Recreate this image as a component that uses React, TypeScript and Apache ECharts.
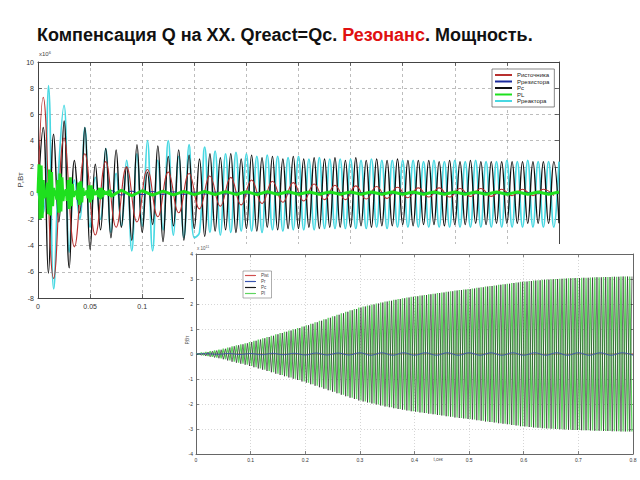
import React, { useEffect, useRef } from "react";
import * as echarts from "echarts";

// ---------- Texts ----------
const TITLE_MAIN = "Компенсация Q на XX. Qreact=Qc. ";
const TITLE_RED = "Резонанс";
const TITLE_END = ". Мощность.";
const mainSeriesNames = ["Pисточника", "Pрезистора", "Pc", "PL", "Pреактора"];
const insetSeriesNames = ["Pist", "Pr", "Pc", "Pl"];
const yName = "P,Вт";
const xNameInset = "t,сек";

// ---------- Main plot (x10^6 W), t = 0 .. 0.5 s ----------
const mainStep = 0.005; // half-period of the 100 Hz oscillation
const mainVisibleXMax = 0.1; // x tick labels not hidden under the inset
// Pc: extremes read every half period
const pcMain = [
  0, 5.0, -6.1, 4.5, -2.2, 5.5, -5.7, 2.5, -1.5, 5.0,
  -4.3, 2.2, -2.8, 3.4, -3.4, 3.3, -2.6, 2.0, -3.6, 3.7,
  -3.0, 1.6, -2.4, 3.6, -3.7, 2.8, -2.5, 3.3, -3.6, 2.9,
  -2.7, 2.6, -3.3, 3.0, -2.9, 2.7, -2.8, 3.0, -3.0, 2.6,
  -2.7, 2.9, -2.9, 2.7, -2.6, 2.8, -2.8, 2.6, -2.7, 2.8,
  -2.7, 2.6, -2.6, 2.7, -2.7, 2.6, -2.6, 2.7, -2.6, 2.5,
  -2.6, 2.7, -2.5, 2.5, -2.6, 2.6, -2.5, 2.5, -2.5, 2.6,
  -2.4, 2.5, -2.5, 2.5, -2.4, 2.5, -2.4, 2.4, -2.5, 2.5,
  -2.4, 2.4, -2.4, 2.5, -2.3, 2.4, -2.4, 2.4, -2.3, 2.4,
  -2.3, 2.4, -2.3, 2.4, -2.3, 2.4, -2.3, 2.4, -2.3, 2.4,
  -2.3,
];
// Preaktora: extremes on the same grid
const preactMain = [
  0, -1.5, 8.2, -7.3, 2.0, 6.7, -4.5, 1.0, -2.0, 5.0,
  -2.6, 1.2, -2.0, 3.4, -3.0, 1.5, -2.5, 2.5, -4.4, 3.0,
  -2.5, 4.0, -4.4, 2.5, -2.8, 4.0, -3.2, 2.8, -3.4, 3.7,
  -3.4, -3.0, 3.5, -3.0, 3.2, -3.2, 3.0, -3.0, 3.1, -2.9,
  3.0, -2.9, 2.8, -3.0, 2.9, -2.8, 2.8, -2.9, 2.7, -2.8,
  2.8, -2.8, 2.6, -2.8, 2.7, -2.7, 2.6, -2.7, 2.6, -2.7,
  2.6, -2.7, 2.5, -2.7, 2.6, -2.6, 2.5, -2.7, 2.5, -2.6,
  2.5, -2.6, 2.5, -2.6, 2.4, -2.6, 2.5, -2.6, 2.4, -2.6,
  2.5, -2.6, 2.4, -2.6, 2.5, -2.6, 2.4, -2.6, 2.4, -2.6,
  2.5, -2.6, 2.4, -2.6, 2.5, -2.6, 2.4, -2.6, 2.4, -2.6,
  2.4,
];
// Pistochnika: 50 Hz, extremes every 0.01 s starting at 0.005 s
const pistStep = 0.01;
const pistStart = 0.005;
const pistMain = [
  7.3, -6.5, 4.2, -4.1, 3.0, -3.2, 2.4, -2.6, 2.0, -2.2,
  1.8, -1.8, 1.6, -1.5, 1.5, -1.2, 1.3, -1.0, 1.2, -0.9,
  1.0, -0.8, 0.9, -0.7, 0.8, -0.6, 0.7, -0.5, 0.6, -0.5,
  0.55, -0.45, 0.5, -0.4, 0.45, -0.35, 0.4, -0.3, 0.4, -0.3,
  0.35, -0.25, 0.35, -0.25, 0.3, -0.2, 0.3, -0.2, 0.3, -0.2,
];
// Prezistora: every 0.01 s
const prStep = 0.01;
const prMain = [
  0, 0.4, -0.35, 0.3, -0.3, 0.25, -0.2, 0.2, -0.15, 0.15,
  -0.12, 0.12, -0.1, 0.1, -0.1, 0.08, -0.08, 0.08, -0.07, 0.07,
  -0.07, 0.06, -0.06, 0.06, -0.06, 0.05, -0.05, 0.05, -0.05, 0.05,
  -0.05, 0.05, -0.05, 0.05, -0.05, 0.05, -0.05, 0.05, -0.05, 0.05,
  -0.05, 0.05, -0.05, 0.05, -0.05, 0.05, -0.05, 0.05, -0.05, 0.05,
  -0.05,
];
// PL: fast transient every 1 ms up to 0.07 s, then every 0.01 s from 0.08 s
const plEarlyStep = 0.001;
const plEarly = [
  0, 2.2, -2.0, 2.1, -1.9, 1.0, -0.4, 0.2, -0.3, 0.8,
  -1.6, 1.8, -1.7, 1.6, -1.0, 0.4, -0.2, 0.2, -0.5, 1.0,
  -1.5, 1.5, -1.4, 1.2, -0.6, 0.2, -0.2, 0.3, -0.6, 1.0,
  -1.2, 1.2, -1.0, 0.7, -0.3, 0.15, -0.15, 0.2, -0.5, 0.8,
  -0.9, 0.9, -0.7, 0.4, -0.2, 0.1, -0.1, 0.2, -0.4, 0.6,
  -0.7, 0.6, -0.5, 0.3, -0.15, 0.1, -0.1, 0.2, -0.3, 0.4,
  -0.45, 0.4, -0.3, 0.2, -0.1, 0.1, -0.1, 0.15, -0.2, 0.25,
  -0.25,
];
const plLateStart = 0.08;
const plLateStep = 0.01;
const plLate = [
  0.22, -0.2, 0.18, -0.16, 0.15, -0.14, 0.13, -0.12, 0.12, -0.11,
  0.11, -0.1, 0.1, -0.1, 0.1, -0.09, 0.1, -0.09, 0.09, -0.09,
  0.09, -0.08, 0.09, -0.08, 0.08, -0.08, 0.08, -0.08, 0.08, -0.08,
  0.08, -0.08, 0.08, -0.08, 0.08, -0.08, 0.08, -0.08, 0.08, -0.08,
  0.08, -0.08, 0.08,
];

// ---------- Inset plot (x10^11 W), t = 0 .. 0.8 s ----------
const insetPeriod = 0.008;
// amplitude of each oscillation cycle of PL / Pc
const insetEnvelope = [
  0.02, 0.05, 0.08, 0.11, 0.14, 0.17, 0.21, 0.26, 0.31, 0.35,
  0.39, 0.43, 0.48, 0.53, 0.58, 0.63, 0.68, 0.73, 0.79, 0.84,
  0.89, 0.94, 0.99, 1.04, 1.10, 1.15, 1.21, 1.27, 1.33, 1.39,
  1.45, 1.51, 1.57, 1.63, 1.69, 1.75, 1.80, 1.86, 1.90, 1.94,
  1.98, 2.02, 2.06, 2.10, 2.13, 2.17, 2.20, 2.23, 2.26, 2.29,
  2.31, 2.34, 2.36, 2.39, 2.41, 2.44, 2.46, 2.49, 2.51, 2.54,
  2.56, 2.58, 2.60, 2.62, 2.65, 2.67, 2.70, 2.72, 2.74, 2.77,
  2.79, 2.81, 2.84, 2.86, 2.89, 2.90, 2.92, 2.94, 2.95, 2.97,
  2.98, 2.99, 3.00, 3.01, 3.02, 3.03, 3.04, 3.04, 3.05, 3.05,
  3.06, 3.07, 3.07, 3.08, 3.08, 3.09, 3.09, 3.10, 3.10, 3.10,
];
const insetPrStep = 0.02;
const insetPr = [
  0, 0.01, -0.01, 0.02, -0.02, 0.02, -0.03, 0.03, -0.03, 0.03,
  -0.04, 0.04, -0.04, 0.04, -0.04, 0.05, -0.05, 0.05, -0.05, 0.05,
  -0.05, 0.05, -0.05, 0.05, -0.05, 0.05, -0.05, 0.05, -0.05, 0.05,
  -0.05, 0.05, -0.05, 0.05, -0.05, 0.05, -0.05, 0.05, -0.05, 0.05,
  -0.05,
];
const insetPistStep = 0.1;
const insetPist = [0, 0.01, -0.01, 0.01, 0, 0.01, -0.01, 0, 0.01];

const FONT = "Liberation Sans, Arial, sans-serif";

const r4 = (v: number) => Math.round(v * 10000) / 10000;

function stepData(vals: number[], step: number, start = 0) {
  return vals.map((v, i) => [r4(start + i * step), v]);
}

function insetWave(sign: number) {
  const out: number[][] = [[0, 0]];
  insetEnvelope.forEach((a, k) => {
    out.push([r4(k * insetPeriod + insetPeriod / 4), sign * a]);
    out.push([r4(k * insetPeriod + (3 * insetPeriod) / 4), -sign * a]);
  });
  return out;
}

function boxAxes(min: number, max: number, interval: number, labelSize: number, tickLen: number, gridColor: string, gridType: any, labelMargin: number, lineColor: string, formatter?: (v: number) => string) {
  const common = {
    type: "value",
    min,
    max,
    interval,
    axisLine: { show: true, onZero: false, lineStyle: { color: lineColor, width: 1 } },
    axisTick: { show: true, inside: true, length: tickLen, lineStyle: { color: lineColor, width: 0.8 } },
  };
  const label: any = { fontSize: labelSize, color: "#333", fontFamily: FONT, margin: labelMargin };
  if (formatter) label.formatter = formatter;
  return [
    {
      ...common,
      axisLabel: label,
      splitLine: { show: true, lineStyle: { type: gridType, color: gridColor, width: 0.7 } },
    },
    {
      ...common,
      axisLabel: { show: false },
      splitLine: { show: false },
    },
  ];
}

export default function App() {
  const mainRef = useRef<HTMLDivElement>(null);
  const insetRef = useRef<HTMLDivElement>(null);

  useEffect(() => {
    if (!mainRef.current || !insetRef.current) return;
    const main = echarts.init(mainRef.current, undefined, { renderer: "svg" });
    const inset = echarts.init(insetRef.current, undefined, { renderer: "svg" });

    const mx = boxAxes(0, 0.5, 0.05, 7, 4, "#a0a0a0", [3, 3], 5, "#444", (v: number) =>
      v <= mainVisibleXMax + 1e-9 ? String(v) : ""
    );
    const my = boxAxes(-8, 10, 2, 7, 4, "#a0a0a0", [3, 3], 4, "#444");
    (mx[1] as any).position = "top";
    (my[1] as any).position = "right";

    const colors = {
      pist: "#b8302f",
      pr: "#1b2a9c",
      pc: "#111111",
      pl: "#1ee01e",
      preact: "#48d8e2",
    };

    main.setOption({
      animation: false,
      backgroundColor: "#ffffff",
      textStyle: { fontFamily: FONT },
      grid: { left: 38, top: 62, right: 81, bottom: 182 },
      xAxis: mx,
      yAxis: my,
      legend: {
        orient: "vertical",
        left: 492,
        top: 69,
        data: mainSeriesNames,
        icon: "rect",
        itemWidth: 17,
        itemHeight: 2,
        itemGap: 0.5,
        padding: [3, 5, 3, 3],
        borderColor: "#555",
        borderWidth: 0.7,
        backgroundColor: "#fff",
        textStyle: { fontSize: 6, color: "#222", fontFamily: FONT },
      },
      series: [
        {
          name: mainSeriesNames[4],
          type: "line",
          data: stepData(preactMain, mainStep),
          symbol: "none",
          smooth: 0.45,
          lineStyle: { color: colors.preact, width: 1.7 },
          itemStyle: { color: colors.preact },
          z: 2,
        },
        {
          name: mainSeriesNames[2],
          type: "line",
          data: stepData(pcMain, mainStep),
          symbol: "none",
          smooth: 0.45,
          lineStyle: { color: colors.pc, width: 1.4 },
          itemStyle: { color: colors.pc },
          z: 3,
        },
        {
          name: mainSeriesNames[0],
          type: "line",
          data: [[0, 0], ...stepData(pistMain, pistStep, pistStart)],
          symbol: "none",
          smooth: 0.45,
          lineStyle: { color: colors.pist, width: 1.1 },
          itemStyle: { color: colors.pist },
          z: 4,
        },
        {
          name: mainSeriesNames[1],
          type: "line",
          data: stepData(prMain, prStep),
          symbol: "none",
          smooth: 0.4,
          lineStyle: { color: colors.pr, width: 1 },
          itemStyle: { color: colors.pr },
          z: 4,
        },
        {
          name: mainSeriesNames[3],
          type: "line",
          data: [...stepData(plEarly, plEarlyStep), ...stepData(plLate, plLateStep, plLateStart)],
          symbol: "none",
          lineStyle: { color: colors.pl, width: 3 },
          itemStyle: { color: colors.pl },
          z: 5,
        },
      ],
      graphic: [
        {
          type: "text",
          x: 37,
          y: 35,
          style: {
            text: `{n|${TITLE_MAIN}}{r|${TITLE_RED}}{n|${TITLE_END}}`,
            verticalAlign: "middle",
            rich: {
              n: { fontSize: 18, fontWeight: "bold", fill: "#111", fontFamily: FONT },
              r: { fontSize: 18, fontWeight: "bold", fill: "#e01010", fontFamily: FONT },
            },
          },
        },
        {
          type: "text",
          x: 39,
          y: 58,
          style: {
            text: "{a|x10}{b|6}",
            verticalAlign: "bottom",
            rich: {
              a: { fontSize: 6, fill: "#444", fontFamily: FONT },
              b: { fontSize: 4, fill: "#444", fontFamily: FONT, verticalAlign: "top", padding: [0, 0, 4, 0] },
            },
          },
        },
        {
          type: "text",
          x: 20,
          y: 180,
          rotation: Math.PI / 2,
          style: {
            text: yName,
            fontSize: 8,
            fill: "#444",
            fontFamily: FONT,
            align: "center",
            verticalAlign: "middle",
          },
        },
      ],
    });

    const ix = boxAxes(0, 0.8, 0.1, 5, 3, "#c4c4c4", [1, 2], 3, "#666");
    const iy = boxAxes(-4, 4, 1, 5, 3, "#c4c4c4", [1, 2], 3, "#666");
    (ix[1] as any).position = "top";
    (iy[1] as any).position = "right";

    const ic = { pist: "#d05050", pr: "#3a55b0", pc: "#1a1a1a", pl: "#5fd55f" };

    inset.setOption({
      animation: false,
      backgroundColor: "#ffffff",
      textStyle: { fontFamily: FONT },
      grid: { left: 12, top: 10, right: 7, bottom: 26 },
      xAxis: ix,
      yAxis: iy,
      legend: {
        orient: "vertical",
        left: 59,
        top: 27,
        data: insetSeriesNames,
        icon: "rect",
        itemWidth: 11,
        itemHeight: 1.2,
        itemGap: 1,
        padding: [2, 3, 2, 2],
        borderColor: "#777",
        borderWidth: 0.6,
        backgroundColor: "#fff",
        textStyle: { fontSize: 4.5, color: "#444", fontFamily: FONT },
      },
      series: [
        {
          name: insetSeriesNames[0],
          type: "line",
          data: stepData(insetPist, insetPistStep),
          symbol: "none",
          lineStyle: { color: ic.pist, width: 0.8 },
          itemStyle: { color: ic.pist },
          z: 2,
        },
        {
          name: insetSeriesNames[3],
          type: "line",
          data: insetWave(1),
          symbol: "none",
          lineStyle: { color: ic.pl, width: 1.3 },
          itemStyle: { color: ic.pl },
          z: 3,
        },
        {
          name: insetSeriesNames[2],
          type: "line",
          data: insetWave(-1),
          symbol: "none",
          lineStyle: { color: ic.pc, width: 0.6 },
          itemStyle: { color: ic.pc },
          z: 4,
        },
        {
          name: insetSeriesNames[1],
          type: "line",
          data: stepData(insetPr, insetPrStep),
          symbol: "none",
          smooth: 0.4,
          lineStyle: { color: ic.pr, width: 0.9 },
          itemStyle: { color: ic.pr },
          z: 5,
        },
      ],
      graphic: [
        {
          type: "text",
          x: 13,
          y: 8,
          style: {
            text: "{a|x 10}{b|11}",
            verticalAlign: "bottom",
            rich: {
              a: { fontSize: 4.5, fill: "#555", fontFamily: FONT },
              b: { fontSize: 3.5, fill: "#555", fontFamily: FONT, padding: [0, 0, 3, 0] },
            },
          },
        },
        {
          type: "text",
          x: 3,
          y: 96,
          rotation: Math.PI / 2,
          style: { text: yName, fontSize: 4.5, fill: "#555", fontFamily: FONT, align: "center", verticalAlign: "middle" },
        },
        {
          type: "text",
          x: 254,
          y: 215,
          style: { text: xNameInset, fontSize: 4.5, fill: "#555", fontFamily: FONT, align: "center", verticalAlign: "middle" },
        },
      ],
    });

    return () => {
      main.dispose();
      inset.dispose();
    };
  }, []);

  return (
    <div style={{ position: "absolute", left: 0, top: 0, width: 640, height: 480, background: "#fff", overflow: "hidden" }}>
      <div ref={mainRef} style={{ position: "absolute", left: 0, top: 0, width: 640, height: 480 }} />
      <div ref={insetRef} style={{ position: "absolute", left: 184, top: 244, width: 456, height: 236, background: "#fff" }} />
    </div>
  );
}
